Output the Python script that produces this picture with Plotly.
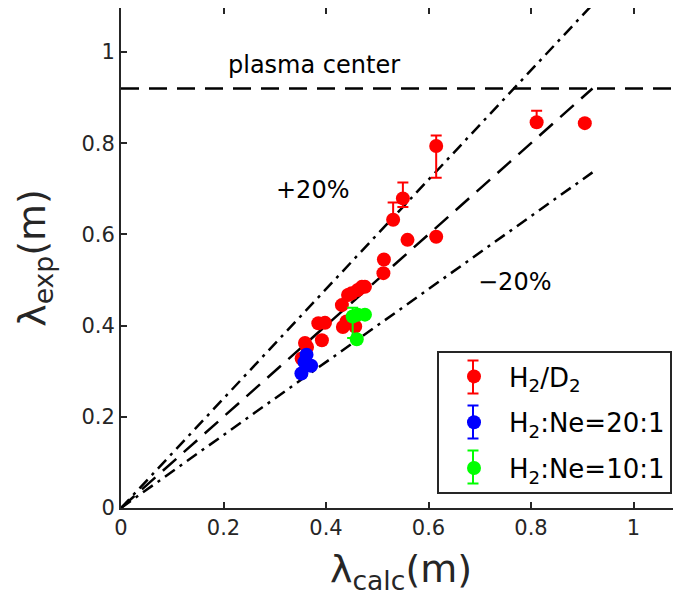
import plotly.graph_objects as go

# ---- data ----
red_x = [0.615, 0.550, 0.531, 0.559, 0.615, 0.513, 0.512, 0.470, 0.476, 0.462, 0.450, 0.443, 0.431,
         0.440, 0.457, 0.433, 0.385, 0.398, 0.392, 0.363, 0.359, 0.355, 0.3525, 0.811, 0.905]
red_y = [0.794, 0.679, 0.632, 0.588, 0.595, 0.545, 0.515, 0.485, 0.485, 0.478, 0.471, 0.467, 0.445,
         0.409, 0.398, 0.397, 0.405, 0.406, 0.368, 0.353, 0.362, 0.325, 0.328, 0.846, 0.844]
red_ep = [0.023, 0.035, 0.038, None, None, None, None, None, None, None, None, None, None,
          None, None, None, None, None, None, None, None, None, None, 0.025, None]
red_em = [0.070, 0.019, 0.0, None, None, None, None, None, None, None, None, None, None,
          None, None, None, None, None, None, None, None, None, None, 0.0, None]

blue_x = [0.362, 0.371, 0.352, 0.358]
blue_y = [0.336, 0.312, 0.295, 0.320]

green_x = [0.452, 0.462, 0.476, 0.460]
green_y = [0.420, 0.424, 0.424, 0.370]
green_ep = [0.019, None, None, None]
green_em = [0.047, None, None, None]

ratios = [1.2, 1.0, 0.8]
line_x_end = 0.92
plasma_center = 0.92

xticks = [0, 0.2, 0.4, 0.6, 0.8, 1.0]
yticks = [0, 0.2, 0.4, 0.6, 0.8, 1.0]
xtick_text = ["0", "0.2", "0.4", "0.6", "0.8", "1"]
ytick_text = ["0", "0.2", "0.4", "0.6", "0.8", "1"]

legend_names = ["H<sub>2</sub>/D<sub>2</sub>", "H<sub>2</sub>:Ne=20:1", "H<sub>2</sub>:Ne=10:1"]
colors = ["#ff0000", "#0000ff", "#00ff00"]

FONT = "DejaVu Sans"
AX = "#262626"

# page offset caused by default body margin (8px)
OFF = 8
W, H = 681 - OFF, 609 - OFF
ML, MT, MB = 121 - OFF, 0, 101
PW, PH = W - ML, H - MT - MB
XSCALE, YSCALE = 512.5, 456.0  # px per data unit

def px2paper(px, py):
    # px, py given in reference page pixels
    return (px - OFF - ML) / PW, (H - MB - (py - OFF)) / PH

fig = go.Figure()

# plasma center line
fig.add_trace(go.Scatter(x=[0, 1.2], y=[plasma_center, plasma_center], mode="lines",
                         line=dict(color="black", width=2.5, dash="18px,10px"),
                         showlegend=False, hoverinfo="skip"))
# ratio lines
for r in ratios:
    fig.add_trace(go.Scatter(x=[0, line_x_end], y=[0, r * line_x_end], mode="lines",
                             line=dict(color="black", width=2.5,
                                       dash="18px,10px" if r == 1.0 else "12px,6px,3px,6px"),
                             showlegend=False, hoverinfo="skip"))

def eb(color, p, m):
    return dict(type="data", symmetric=False, array=p, arrayminus=m,
                color=color, thickness=2, width=5.5, visible=True)

series = [(red_x, red_y, red_ep, red_em),
          (blue_x, blue_y, [0] * len(blue_x), [0] * len(blue_x)),
          (green_x, green_y, green_ep, green_em)]
for i, (sx, sy, ep, em) in enumerate(series):
    fig.add_trace(go.Scatter(x=sx, y=sy, mode="markers", name=legend_names[i],
                             legendgroup="g%d" % i,
                             marker=dict(color=colors[i], size=14),
                             error_y=eb(colors[i], ep, em)))

# invisible trace for right-side ticks
fig.add_trace(go.Scatter(x=[0], y=[0], yaxis="y2", mode="markers",
                         marker=dict(opacity=0), showlegend=False, hoverinfo="skip"))

ann_font = dict(family=FONT, size=24, color="black")
fig.add_annotation(x=0.377, y=0.971, text="plasma center", showarrow=False, font=ann_font)
fig.add_annotation(x=0.373, y=0.697, text="+20%", showarrow=False, font=ann_font)
fig.add_annotation(x=0.767, y=0.496, text="−20%", showarrow=False, font=ann_font)

# legend error-bar glyphs (decoration)
shapes = []
sym_px = 473
for i, cy in enumerate([377, 422, 467]):
    x0, y0 = px2paper(sym_px, cy - 16.5)
    _, y1 = px2paper(sym_px, cy + 16.5)
    xl, _ = px2paper(sym_px - 5.5, cy)
    xr, _ = px2paper(sym_px + 5.5, cy)
    ln = dict(color=colors[i], width=2)
    shapes.append(dict(type="line", xref="paper", yref="paper", x0=x0, x1=x0, y0=y0, y1=y1, line=ln))
    shapes.append(dict(type="line", xref="paper", yref="paper", x0=xl, x1=xr, y0=y0, y1=y0, line=ln))
    shapes.append(dict(type="line", xref="paper", yref="paper", x0=xl, x1=xr, y0=y1, y1=y1, line=ln))

axis_common = dict(showgrid=False, zeroline=False, showline=True, linecolor=AX, linewidth=2,
                   ticks="inside", ticklen=6, tickwidth=1.5, tickcolor=AX, automargin=False,
                   tickfont=dict(family=FONT, size=21, color=AX))

lx, ly = px2paper(437, 351)
fig.update_layout(
    width=W, height=H,
    margin=dict(l=ML, r=0, t=MT, b=MB, autoexpand=False, pad=0),
    paper_bgcolor="white", plot_bgcolor="white",
    font=dict(family=FONT, color=AX),
    xaxis=dict(range=[0, PW / XSCALE], tickvals=xticks, ticktext=xtick_text, mirror="ticks",
               title=dict(text="λ<sub>calc</sub>(m)", font=dict(family=FONT, size=38, color=AX), standoff=16),
               **axis_common),
    yaxis=dict(range=[0, PH / YSCALE], tickvals=yticks, ticktext=ytick_text, mirror=False,
               title=dict(text="λ<sub>exp</sub>(m)", font=dict(family=FONT, size=38, color=AX), standoff=24),
               **axis_common),
    yaxis2=dict(range=[0, PH / YSCALE], overlaying="y", side="right", showgrid=False, zeroline=False,
                showline=False, ticks="inside", ticklen=6, tickwidth=1.5, tickcolor=AX,
                tickvals=yticks, showticklabels=False, automargin=False),
    legend=dict(x=lx, y=ly, xanchor="left", yanchor="top",
                bgcolor="rgba(0,0,0,0)", bordercolor=AX, borderwidth=2,
                itemwidth=60, tracegroupgap=9,
                font=dict(family=FONT, size=26, color="black")),
    showlegend=True,
    shapes=shapes,
)

fig.write_html("out.html")
